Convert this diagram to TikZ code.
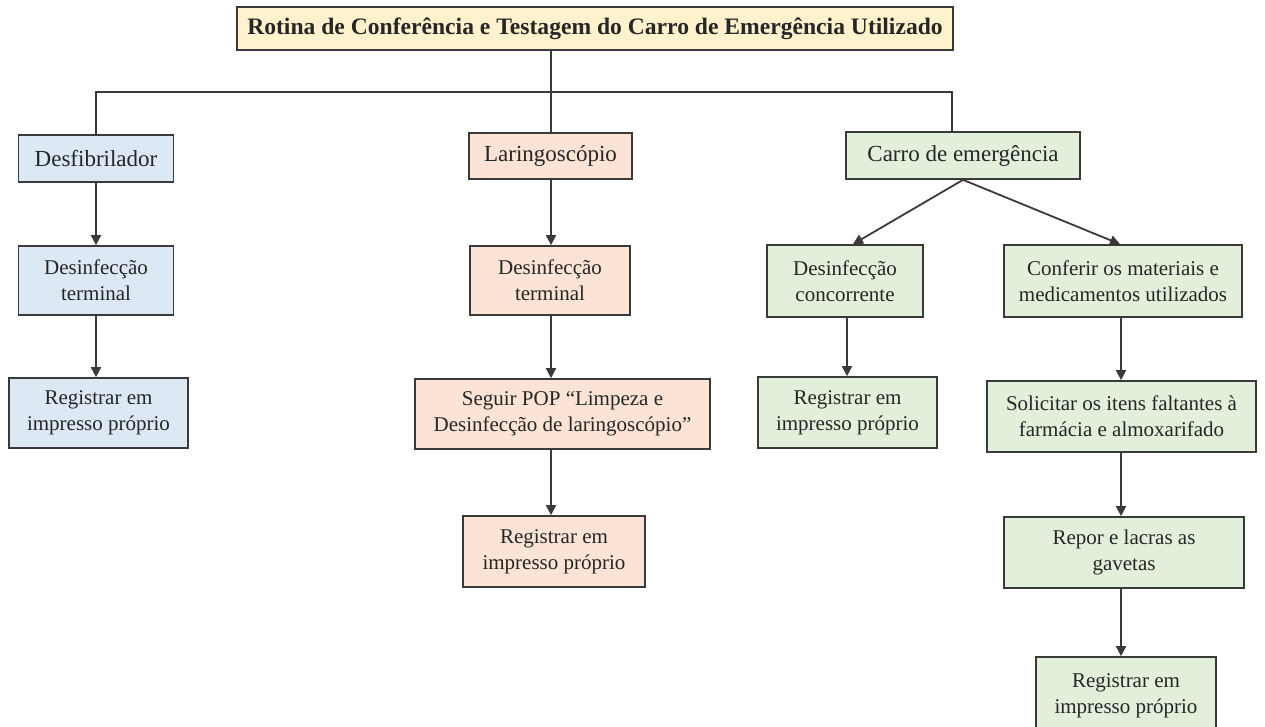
\documentclass[tikz,border=0pt]{standalone}
\usepackage{fontspec}
\setmainfont{Liberation Serif}
\usetikzlibrary{arrows.meta}
\definecolor{cyellow}{HTML}{FFF2CC}
\definecolor{cblue}{HTML}{DCE8F4}
\definecolor{corange}{HTML}{FBE4D5}
\definecolor{cgreen}{HTML}{E2EFDA}
\definecolor{cedge}{HTML}{3A3A3A}
\tikzset{
  box/.style={draw=cedge, line width=1.7pt, align=center, inner sep=0pt,
    font=\fontsize{21}{26}\selectfont, text=black!85},
  big/.style={font=\fontsize{23}{28}\selectfont},
  titlebox/.style={box, fill=cyellow, font=\fontsize{23.6}{28}\selectfont\bfseries},
  bluebox/.style={box, fill=cblue},
  orangebox/.style={box, fill=corange},
  greenbox/.style={box, fill=cgreen},
  link/.style={draw=cedge, line width=1.8pt},
  arr/.style={link, -{Triangle[length=10pt,width=10pt]}}
}
\begin{document}
\begin{tikzpicture}[x=1pt,y=-1pt]
\useasboundingbox (0,0) rectangle (1265,726);
\fill[white] (0,0) rectangle (1265,726);

\node[titlebox, minimum width=716pt, minimum height=43pt] (title) at (595,28.5)
  {Rotina de Conferência e Testagem do Carro de Emergência Utilizado};

\node[bluebox, big, minimum width=155pt, minimum height=47pt] (desf) at (96,158.5) {Desfibrilador};
\node[orangebox, big, minimum width=163pt, minimum height=46pt] (lar) at (550.5,156) {Laringoscópio};
\node[greenbox, big, minimum width=234pt, minimum height=47pt] (carro) at (963,155.5) {Carro de emergência};

\node[bluebox, minimum width=155pt, minimum height=69pt] (bdes) at (96,280.5) {Desinfecção\\terminal};
\node[bluebox, minimum width=179pt, minimum height=70pt] (breg) at (98.5,413) {Registrar em\\impresso próprio};

\node[orangebox, minimum width=160pt, minimum height=69pt] (odes) at (550,280.5) {Desinfecção\\terminal};
\node[orangebox, minimum width=295pt, minimum height=70pt] (opop) at (562.5,414) {Seguir POP “Limpeza e\\Desinfecção de laringoscópio”};
\node[orangebox, minimum width=182pt, minimum height=71pt] (oreg) at (554,551.5) {Registrar em\\impresso próprio};

\node[greenbox, minimum width=156pt, minimum height=72pt] (gdes) at (845,281) {Desinfecção\\concorrente};
\node[greenbox, minimum width=179pt, minimum height=71pt] (greg1) at (847.5,412.5) {Registrar em\\impresso próprio};
\node[greenbox, minimum width=238pt, minimum height=72pt] (gconf) at (1123,281) {Conferir os materiais e\\medicamentos utilizados};
\node[greenbox, minimum width=269pt, minimum height=71pt] (gsol) at (1121.5,416.5) {Solicitar os itens faltantes à\\farmácia e almoxarifado};
\node[greenbox, minimum width=240pt, minimum height=71pt] (grep) at (1124,552.5) {Repor e lacras as\\gavetas};
\node[greenbox, minimum width=180pt, minimum height=78pt] (greg2) at (1126,696) {Registrar em\\impresso próprio};

\coordinate (bus) at (0,92);
\coordinate (busR) at (952,92);
\coordinate (lx) at (551,0);
\coordinate (cx) at (1121,0);
\coordinate (bx) at (96,0);
\coordinate (gx) at (847,0);
\draw[link] (title.south -| lx) -- (lar.north -| lx);
\draw[link] (desf.north -| bx) -- (bus -| bx) -- (busR) -- (busR |- carro.north);

\draw[arr] (desf.south -| bx) -- (bdes.north -| bx);
\draw[arr] (bdes.south -| bx) -- (breg.north -| bx);
\draw[arr] (lar.south -| lx) -- (odes.north -| lx);
\draw[arr] (odes.south -| lx) -- (opop.north -| lx);
\draw[arr] (opop.south -| lx) -- (oreg.north -| lx);
\draw[arr] (carro.south) -- ([xshift=8pt]gdes.north);
\draw[arr] (carro.south) -- ([xshift=-3pt]gconf.north);
\draw[arr] (gdes.south -| gx) -- (greg1.north -| gx);
\draw[arr] (gconf.south -| cx) -- (gsol.north -| cx);
\draw[arr] (gsol.south -| cx) -- (grep.north -| cx);
\draw[arr] (grep.south -| cx) -- (greg2.north -| cx);
\end{tikzpicture}
\end{document}
